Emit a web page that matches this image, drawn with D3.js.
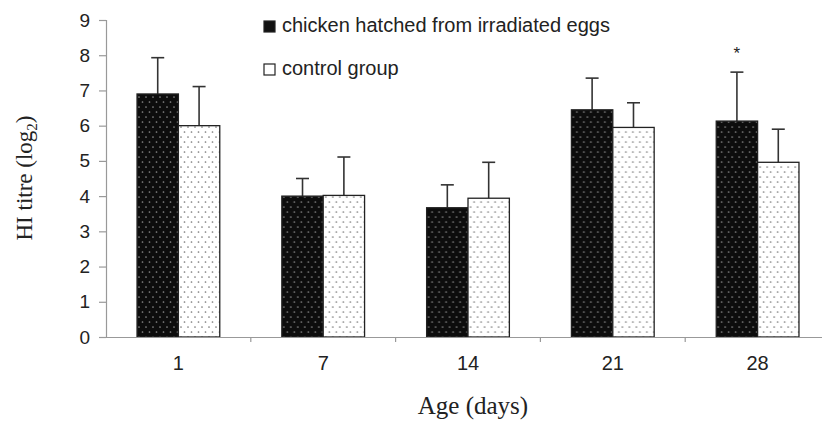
<!DOCTYPE html>
<html>
<head>
<meta charset="utf-8">
<script src="https://cdn.jsdelivr.net/npm/d3@7/dist/d3.min.js"></script>
<style>
  html, body { margin: 0; padding: 0; background: #fff; }
  svg { display: block; }
</style>
</head>
<body>
<svg id="chart" width="822" height="421"></svg>
<script>
// ---- data ----
const categories = ["1", "7", "14", "21", "28"];
const seriesNames = ["chicken hatched from irradiated eggs", "control group"];
const irradiatedMean = [6.9, 4.0, 3.67, 6.45, 6.13];
const irradiatedUpper = [7.93, 4.5, 4.32, 7.35, 7.52];
const controlMean = [6.0, 4.02, 3.94, 5.95, 4.96];
const controlUpper = [7.11, 5.11, 4.96, 6.65, 5.9];
const significant = [false, false, false, false, true];
const yTicks = [0, 1, 2, 3, 4, 5, 6, 7, 8, 9];

const svg = d3.select("#chart");
const plotLeft = 106, plotRight = 830, plotTop = 20, plotBottom = 337;

const x0 = d3.scaleBand().domain(categories).range([plotLeft, plotRight]).padding(0);
const x1 = d3.scaleBand().domain(["irr", "ctl"]).range([0, x0.bandwidth()])
  .paddingInner(0).paddingOuter(0.75);
const y = d3.scaleLinear().domain([0, 9]).range([plotBottom, plotTop]);

// patterns
const defs = svg.append("defs");
function dotPattern(id, bg, dot) {
  const p = defs.append("pattern").attr("id", id)
    .attr("patternUnits", "userSpaceOnUse").attr("width", 7).attr("height", 10);
  p.append("rect").attr("width", 7).attr("height", 10).attr("fill", bg);
  p.append("circle").attr("cx", 1.5).attr("cy", 2).attr("r", 0.85).attr("fill", dot);
  p.append("circle").attr("cx", 5).attr("cy", 7).attr("r", 0.85).attr("fill", dot);
}
dotPattern("pBlack", "#0d0d0d", "#8a8a8a");
dotPattern("pWhite", "#fff", "#7a7a7a");

const rows = categories.map((c, i) => ({
  cat: c,
  bars: [
    { key: "irr", v: irradiatedMean[i], e: irradiatedUpper[i], fill: "url(#pBlack)" },
    { key: "ctl", v: controlMean[i], e: controlUpper[i], fill: "url(#pWhite)" }
  ],
  sig: significant[i]
}));

const sansFont = "Liberation Sans, Arial, sans-serif";
const serifFont = "Liberation Serif, Times New Roman, serif";

// y axis
const yAxis = d3.axisLeft(y).tickValues(yTicks).tickSize(7).tickPadding(9).tickFormat(d3.format("d"));
const gy = svg.append("g").attr("transform", `translate(${plotLeft},0)`).call(yAxis);
gy.select(".domain").attr("stroke", "#999").attr("stroke-width", 1.2);
gy.selectAll(".tick line").attr("stroke", "#999").attr("stroke-width", 1.2);
gy.selectAll(".tick text").attr("font-family", sansFont)
  .attr("font-size", 19).attr("fill", "#222");

const groups = svg.append("g").selectAll("g").data(rows).join("g")
  .attr("transform", d => `translate(${x0(d.cat)},0)`);

groups.selectAll("line.err").data(d => d.bars).join("line").attr("class", "err")
  .attr("x1", d => x1(d.key) + x1.bandwidth() / 2)
  .attr("x2", d => x1(d.key) + x1.bandwidth() / 2)
  .attr("y1", d => y(d.v)).attr("y2", d => y(d.e))
  .attr("stroke", "#333").attr("stroke-width", 1.6);
groups.selectAll("line.cap").data(d => d.bars).join("line").attr("class", "cap")
  .attr("x1", d => x1(d.key) + x1.bandwidth() / 2 - 6.5)
  .attr("x2", d => x1(d.key) + x1.bandwidth() / 2 + 6.5)
  .attr("y1", d => y(d.e)).attr("y2", d => y(d.e))
  .attr("stroke", "#333").attr("stroke-width", 1.6);

groups.selectAll("rect").data(d => d.bars).join("rect")
  .attr("x", d => x1(d.key)).attr("width", x1.bandwidth())
  .attr("y", d => y(d.v)).attr("height", d => y(0) - y(d.v))
  .attr("fill", d => d.fill).attr("stroke", "#222").attr("stroke-width", 1.3);

groups.filter(d => d.sig).append("text")
  .attr("x", d => x1("irr") + x1.bandwidth() / 2)
  .attr("y", d => y(d.bars[0].e) - 13)
  .attr("text-anchor", "middle")
  .attr("font-family", sansFont)
  .attr("font-size", 17).attr("fill", "#222").text("*");

// x axis
const xAxis = d3.axisBottom(x0).tickSize(0).tickPadding(19);
const gx = svg.append("g").attr("transform", `translate(0,${plotBottom})`).call(xAxis);
gx.select(".domain").attr("stroke", "#999").attr("stroke-width", 1.2);
gx.selectAll(".tick text").attr("font-family", sansFont)
  .attr("font-size", 20).attr("fill", "#222");
gx.selectAll("line.sep").data(categories).join("line").attr("class", "sep")
  .attr("x1", d => x0(d) + x0.bandwidth())
  .attr("x2", d => x0(d) + x0.bandwidth())
  .attr("y1", 0).attr("y2", 5).attr("stroke", "#999").attr("stroke-width", 1.2);

// axis titles
svg.append("text").attr("x", 473).attr("y", 414).attr("text-anchor", "middle")
  .attr("font-family", serifFont).attr("font-size", 25)
  .attr("fill", "#222").text("Age (days)");

const yt = svg.append("text").attr("transform", "translate(32,178) rotate(-90)")
  .attr("text-anchor", "middle")
  .attr("font-family", serifFont).attr("font-size", 23)
  .attr("fill", "#222");
yt.append("tspan").text("HI titre (log");
yt.append("tspan").attr("font-size", 15).attr("dy", 5).text("2");
yt.append("tspan").attr("dy", -5).text(")");

// legend
const legendFills = ["#111", "#fff"];
const lg = svg.append("g").selectAll("g").data(seriesNames).join("g")
  .attr("transform", (d, i) => `translate(264,${21 + i * 43})`);
lg.append("rect").attr("width", 11).attr("height", 11)
  .attr("fill", (d, i) => legendFills[i]).attr("stroke", "#222").attr("stroke-width", 1.2);
lg.append("text").attr("x", 18).attr("y", 11)
  .attr("font-family", sansFont).attr("font-size", 20)
  .attr("fill", "#222").text(d => d);
</script>
</body>
</html>
